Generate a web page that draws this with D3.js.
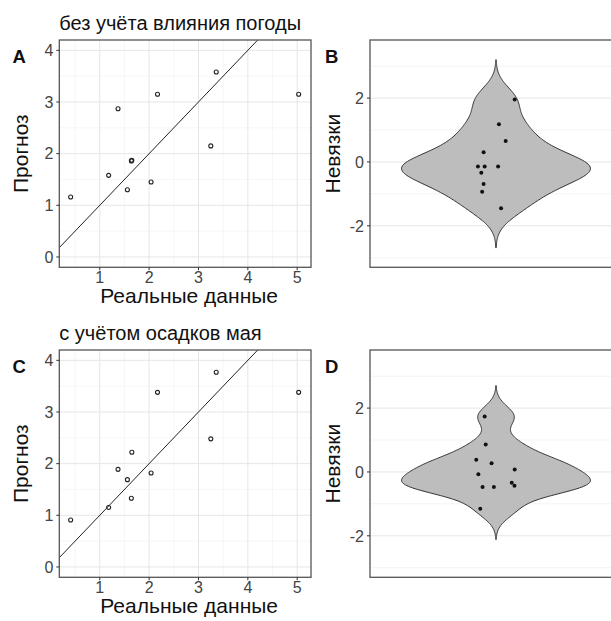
<!DOCTYPE html>
<html lang="ru">
<head>
<meta charset="UTF-8">
<title>Прогноз и невязки</title>
<script src="https://d3js.org/d3.v7.min.js"></script>
<style>
  body { margin: 0; background: #fff; }
  text { font-family: "Liberation Sans", Arial, sans-serif; }
</style>
</head>
<body>
<div id="chart"></div>
<script>
// data
const realValues = [0.41, 1.18, 1.37, 1.56, 1.64, 1.65, 2.04, 2.17, 3.25, 3.36, 5.03];
const forecastA = [1.16, 1.58, 2.87, 1.30, 1.86, 1.87, 1.45, 3.15, 2.15, 3.58, 3.15];
const forecastC = [0.91, 1.15, 1.89, 1.69, 1.33, 2.22, 1.82, 3.38, 2.48, 3.77, 3.38];

const residualsB = [1.96, 1.18, 0.66, 0.30, -0.14, -0.14, -0.14, -0.34, -0.69, -0.93, -1.45];
const jitterB = [0.089, 0.014, 0.046, -0.059, -0.086, -0.054, 0.010, -0.070, -0.059, -0.066, 0.024];
const residualsD = [1.74, 0.86, 0.38, 0.27, 0.08, -0.07, -0.47, -0.47, -0.34, -0.43, -1.15];
const jitterD = [-0.054, -0.049, -0.094, -0.021, 0.089, -0.084, -0.064, -0.010, 0.075, 0.088, -0.075];

const xTicks = [1, 2, 3, 4, 5];
const yTicks = [0, 1, 2, 3, 4];
const resTicks = [-2, 0, 2];

const W = 611, H = 621;
const svg = d3.select("#chart").append("svg")
    .attr("width", W).attr("height", H);

const gridMajor = "#e6e6e6", gridMinor = "#f0f0f0", border = "#555", tickCol = "#444";

// ---------- scatter panels (A, C) ----------
function scatter(top, forecast, tag, title, clipId) {
    const box = { left: 59.3, right: 311, top: top, bottom: top + 227.3 };
    const x = d3.scaleLinear().domain([0.18, 5.28]).range([box.left, box.right]);
    const y = d3.scaleLinear().domain([-0.2, 4.2]).range([box.bottom, box.top]);
    const g = svg.append("g");

    svg.append("clipPath").attr("id", clipId).append("rect")
        .attr("x", box.left).attr("y", box.top)
        .attr("width", box.right - box.left).attr("height", box.bottom - box.top);

    // minor grid
    g.selectAll(".vmin").data(d3.range(0.5, 5.3, 1)).join("line")
        .attr("x1", d => x(d)).attr("x2", d => x(d))
        .attr("y1", box.top).attr("y2", box.bottom)
        .attr("stroke", gridMinor).attr("stroke-width", 0.6);
    g.selectAll(".hmin").data(d3.range(0.5, 4.2, 1)).join("line")
        .attr("y1", d => y(d)).attr("y2", d => y(d))
        .attr("x1", box.left).attr("x2", box.right)
        .attr("stroke", gridMinor).attr("stroke-width", 0.6);
    // major grid
    g.selectAll(".vmaj").data(xTicks).join("line")
        .attr("x1", d => x(d)).attr("x2", d => x(d))
        .attr("y1", box.top).attr("y2", box.bottom)
        .attr("stroke", gridMajor).attr("stroke-width", 1);
    g.selectAll(".hmaj").data(yTicks).join("line")
        .attr("y1", d => y(d)).attr("y2", d => y(d))
        .attr("x1", box.left).attr("x2", box.right)
        .attr("stroke", gridMajor).attr("stroke-width", 1);

    // 1:1 line
    g.append("line")
        .attr("clip-path", `url(#${clipId})`)
        .attr("x1", x(0)).attr("y1", y(0)).attr("x2", x(4.5)).attr("y2", y(4.5))
        .attr("stroke", "#222").attr("stroke-width", 1);

    // points
    g.selectAll(".pt").data(realValues).join("circle")
        .attr("cx", d => x(d)).attr("cy", (d, i) => y(forecast[i]))
        .attr("r", 2).attr("fill", "none")
        .attr("stroke", "#222").attr("stroke-width", 1.1);

    // border
    g.append("rect")
        .attr("x", box.left).attr("y", box.top)
        .attr("width", box.right - box.left).attr("height", box.bottom - box.top)
        .attr("fill", "none").attr("stroke", border).attr("stroke-width", 1.3);

    // ticks and labels
    g.selectAll(".xt").data(xTicks).join("line")
        .attr("x1", d => x(d)).attr("x2", d => x(d))
        .attr("y1", box.bottom).attr("y2", box.bottom + 3)
        .attr("stroke", "#333");
    g.selectAll(".xl").data(xTicks).join("text")
        .attr("x", d => x(d)).attr("y", box.bottom + 15.5)
        .attr("text-anchor", "middle").attr("font-size", 16).attr("fill", tickCol)
        .text(d => d);
    g.selectAll(".yt").data(yTicks).join("line")
        .attr("y1", d => y(d)).attr("y2", d => y(d))
        .attr("x1", box.left - 3).attr("x2", box.left)
        .attr("stroke", "#333");
    g.selectAll(".yl").data(yTicks).join("text")
        .attr("x", box.left - 6).attr("y", d => y(d)).attr("dy", "0.36em")
        .attr("text-anchor", "end").attr("font-size", 16).attr("fill", tickCol)
        .text(d => d);

    // titles
    g.append("text").attr("x", box.left).attr("y", box.top - 10)
        .attr("font-size", 20).attr("fill", "#111").text(title);
    g.append("text").attr("x", 12.5).attr("y", box.top + 23)
        .attr("font-size", 18.5).attr("font-weight", "bold").attr("fill", "#111").text(tag);
    g.append("text").attr("x", (box.left + box.right) / 2 + 4).attr("y", box.bottom + 35.5)
        .attr("text-anchor", "middle").attr("font-size", 21).attr("fill", "#111")
        .text("Реальные данные");
    g.append("text")
        .attr("transform", `translate(${box.left - 31},${(box.top + box.bottom) / 2}) rotate(-90)`)
        .attr("text-anchor", "middle").attr("font-size", 21).attr("fill", "#111")
        .text("Прогноз");
}

// ---------- violin panels (B, D) ----------
function bwNrd0(v) {
    const s = d3.deviation(v);
    const sorted = v.slice().sort(d3.ascending);
    const iqr = d3.quantileSorted(sorted, 0.75) - d3.quantileSorted(sorted, 0.25);
    const lo = Math.min(s, iqr / 1.34);
    return 0.9 * lo * Math.pow(v.length, -0.2);
}

function violin(top, residuals, jitter, tag) {
    const box = { left: 370, right: 622, top: top, bottom: top + 227.3 };
    const x = d3.scaleLinear().domain([0.4, 1.6]).range([box.left, box.right]);
    const y = d3.scaleLinear().domain([-3.3, 3.82]).range([box.bottom, box.top]);
    const g = svg.append("g");

    g.selectAll(".hmin").data([-3, -1, 1, 3]).join("line")
        .attr("y1", d => y(d)).attr("y2", d => y(d))
        .attr("x1", box.left).attr("x2", box.right)
        .attr("stroke", gridMinor).attr("stroke-width", 0.8);
    g.selectAll(".hmaj").data(resTicks).join("line")
        .attr("y1", d => y(d)).attr("y2", d => y(d))
        .attr("x1", box.left).attr("x2", box.right)
        .attr("stroke", gridMajor).attr("stroke-width", 1);

    // kernel density (gaussian, untrimmed like geom_violin(trim = FALSE))
    const bw = bwNrd0(residuals);
    const lo = d3.min(residuals) - 3 * bw, hi = d3.max(residuals) + 3 * bw;
    const grid = d3.range(0, 201).map(i => lo + (hi - lo) * i / 200);
    const dens = grid.map(t => ({
        y: t,
        d: d3.mean(residuals, r => Math.exp(-0.5 * ((t - r) / bw) ** 2))
    }));
    const w = d3.scaleLinear().domain([0, d3.max(dens, p => p.d)]).range([0, 0.45]);
    const area = d3.area()
        .y(p => y(p.y))
        .x0(p => x(1 - w(p.d)))
        .x1(p => x(1 + w(p.d)))
        .curve(d3.curveBasis);
    g.append("path").datum(dens).attr("d", area)
        .attr("fill", "#bdbdbd").attr("stroke", "#333").attr("stroke-width", 1);

    g.selectAll(".pt").data(residuals).join("circle")
        .attr("cx", (d, i) => x(1 + jitter[i])).attr("cy", d => y(d))
        .attr("r", 2).attr("fill", "#111");

    g.append("rect")
        .attr("x", box.left).attr("y", box.top)
        .attr("width", box.right - box.left).attr("height", box.bottom - box.top)
        .attr("fill", "none").attr("stroke", border).attr("stroke-width", 1.3);

    g.selectAll(".yt").data(resTicks).join("line")
        .attr("y1", d => y(d)).attr("y2", d => y(d))
        .attr("x1", box.left - 3).attr("x2", box.left)
        .attr("stroke", "#333");
    g.selectAll(".yl").data(resTicks).join("text")
        .attr("x", box.left - 6).attr("y", d => y(d)).attr("dy", "0.36em")
        .attr("text-anchor", "end").attr("font-size", 16).attr("fill", tickCol)
        .text(d => d);

    g.append("text").attr("x", box.left - 45).attr("y", box.top + 23)
        .attr("font-size", 18.5).attr("font-weight", "bold").attr("fill", "#111").text(tag);
    g.append("text")
        .attr("transform", `translate(${box.left - 30},${(box.top + box.bottom) / 2}) rotate(-90)`)
        .attr("text-anchor", "middle").attr("font-size", 21).attr("fill", "#111")
        .text("Невязки");
}

scatter(40, forecastA, "A", "без учёта влияния погоды", "clipA");
violin(40, residualsB, jitterB, "B");
scatter(350, forecastC, "C", "с учётом осадков мая", "clipC");
violin(350, residualsD, jitterD, "D");
</script>
</body>
</html>
